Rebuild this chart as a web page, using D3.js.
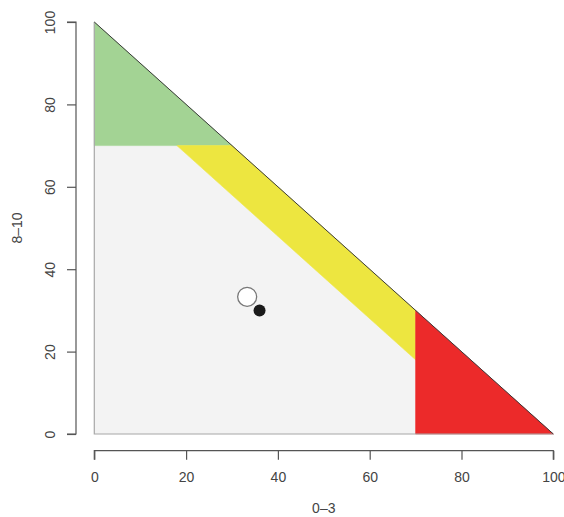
<!DOCTYPE html>
<html>
<head>
<meta charset="utf-8">
<script src="https://cdn.jsdelivr.net/npm/d3@7"></script>
<style>
  html, body { margin: 0; padding: 0; background: #fff; }
  svg { display: block; }
  text { font-family: "Liberation Sans", Arial, sans-serif; fill: #444; }
</style>
</head>
<body>
<svg id="chart" width="564" height="517"></svg>
<script>
// Zone polygons in (0-3, 8-10) percentage space
const zoneGreen  = [[0, 70], [0, 100], [30, 70]];
const zoneYellow = [[18, 70], [30, 70], [70, 30], [70, 18]];
const zoneRed    = [[70, 0], [70, 30], [100, 0]];
const zoneGray   = [[0, 0], [0, 70], [18, 70], [70, 18], [70, 0]];
const zones = [
  { pts: zoneGray,   fill: "#f3f3f3" },
  { pts: zoneGreen,  fill: "#a3d394" },
  { pts: zoneYellow, fill: "#ede640" },
  { pts: zoneRed,    fill: "#ec2a2a" }
];

// Observations
const openPoint   = [33.3, 33.3];
const filledPoint = [36, 30];

const xTicks = [0, 20, 40, 60, 80, 100];
const yTicks = [0, 20, 40, 60, 80, 100];
const xTitle = "0\u20133";
const yTitle = "8\u201310";

const svg = d3.select("#chart");
const x = d3.scaleLinear().domain([0, 100]).range([94.3, 553.3]);
const y = d3.scaleLinear().domain([0, 100]).range([434, 22]);

const line = d3.line().x(d => x(d[0])).y(d => y(d[1]));

zones.forEach(z => {
  svg.append("path")
    .attr("d", line(z.pts) + "Z")
    .attr("fill", z.fill)
    .attr("stroke", z.fill)
    .attr("stroke-width", 0.6);
});

// Triangle outline: light legs, dark hypotenuse
svg.append("path")
  .attr("d", line([[0, 100], [0, 0], [100, 0]]))
  .attr("fill", "none")
  .attr("stroke", "#a8a8a8")
  .attr("stroke-width", 1.2);
svg.append("path")
  .attr("d", line([[0, 100], [100, 0]]))
  .attr("fill", "none")
  .attr("stroke", "#3a3a3a")
  .attr("stroke-width", 1);

// Points
svg.append("circle")
  .attr("cx", x(openPoint[0])).attr("cy", y(openPoint[1])).attr("r", 9.5)
  .attr("fill", "#fff").attr("stroke", "#777").attr("stroke-width", 1.3);
svg.append("circle")
  .attr("cx", x(filledPoint[0])).attr("cy", y(filledPoint[1])).attr("r", 6)
  .attr("fill", "#1a1a1a");

// Axes
const xAxis = svg.append("g")
  .attr("transform", "translate(0,450.7)")
  .call(d3.axisBottom(x).tickValues(xTicks).tickSize(9).tickPadding(12).tickFormat(d3.format("d")));
const yAxis = svg.append("g")
  .attr("transform", "translate(76,0)")
  .call(d3.axisLeft(y).tickValues(yTicks).tickSize(9).tickPadding(10).tickFormat(d3.format("d")));

[xAxis, yAxis].forEach(a => {
  a.select(".domain").attr("stroke", "#555").attr("stroke-width", 1.2);
  a.selectAll(".tick line").attr("stroke", "#555").attr("stroke-width", 1.2);
  a.selectAll("text").attr("font-size", 14).attr("fill", "#444")
    .style("font-family", "'Liberation Sans', Arial, sans-serif");
});
xAxis.select(".domain").attr("d", `M${x(0)},9V0H${x(100)}V9`);
yAxis.select(".domain").attr("d", `M-9,${y(0)}H0V${y(100)}H-9`);

// y tick labels read bottom-to-top, centred on each tick
yAxis.selectAll(".tick text")
  .attr("text-anchor", "middle")
  .attr("x", 0).attr("y", 0)
  .attr("dy", "0.35em")
  .attr("transform", "translate(-26,0) rotate(-90)");

svg.append("text")
  .attr("x", x(50)).attr("y", 513)
  .attr("text-anchor", "middle").attr("font-size", 14)
  .text(xTitle);
svg.append("text")
  .attr("transform", `translate(22,${y(50)}) rotate(-90)`)
  .attr("text-anchor", "middle").attr("font-size", 14)
  .text(yTitle);
</script>
</body>
</html>
